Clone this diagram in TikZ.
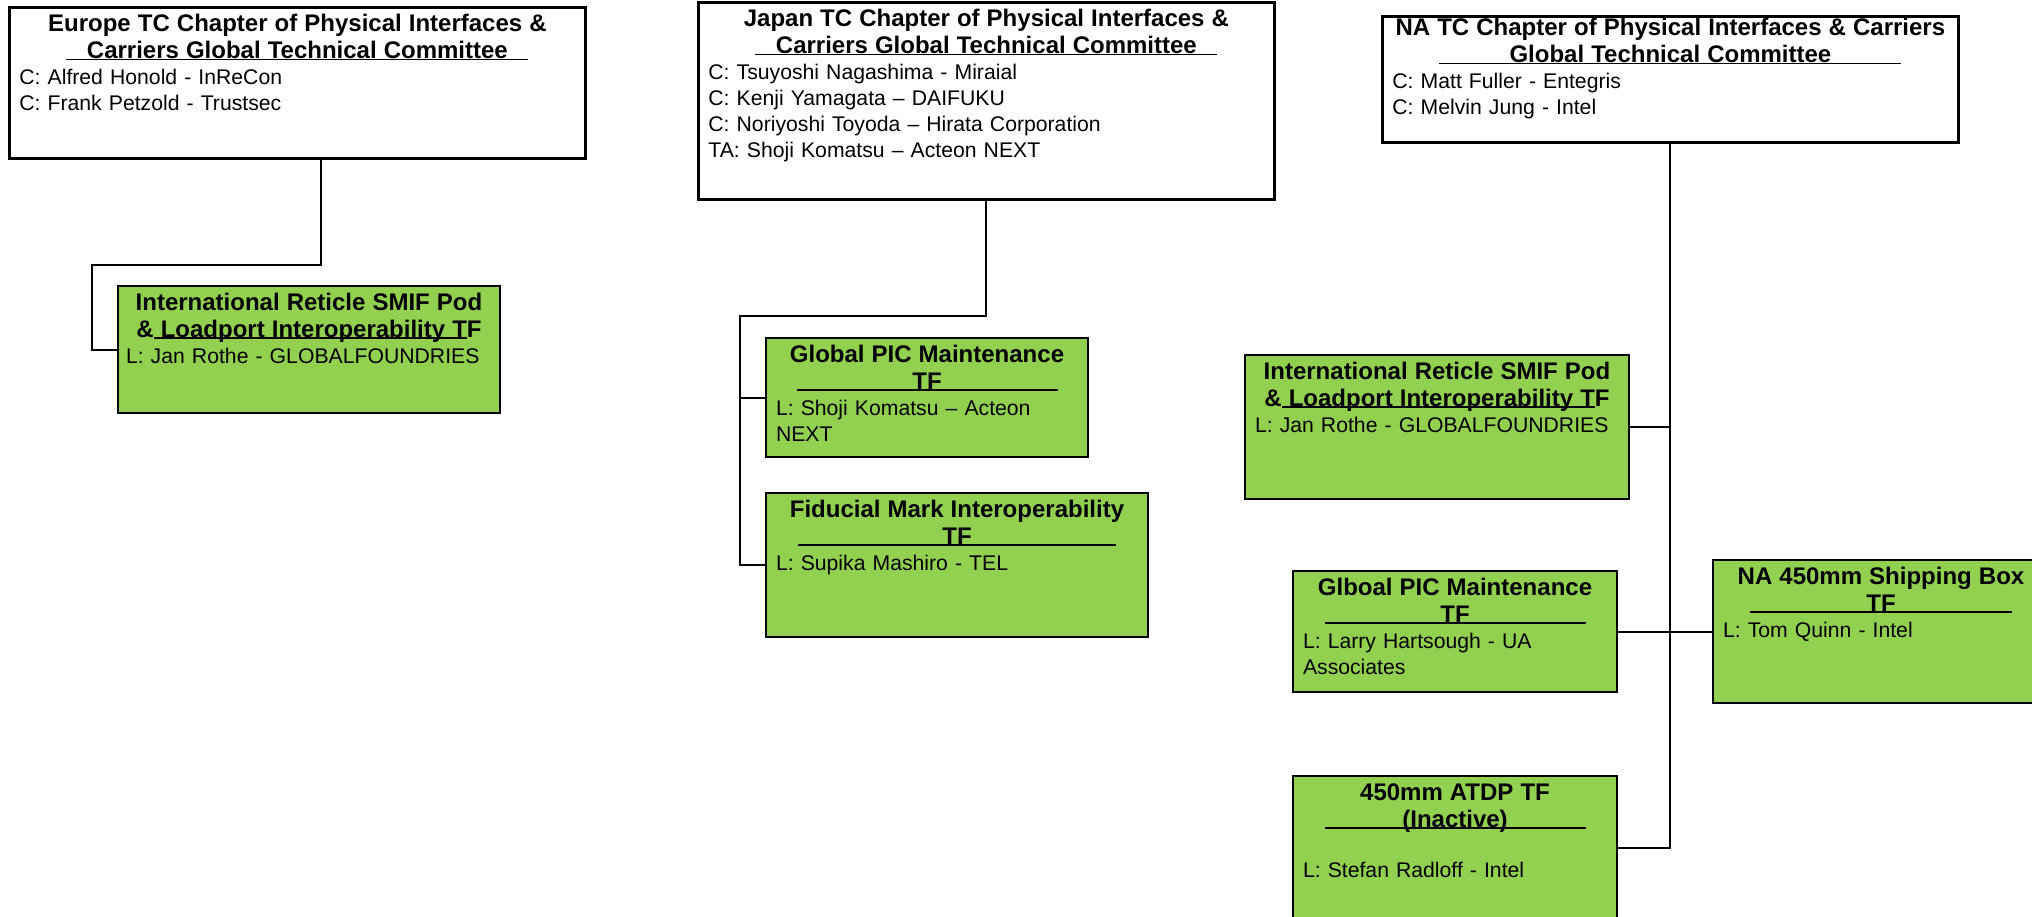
\documentclass[tikz,border=0pt]{standalone}
\usepackage{fontspec}
\setmainfont{Liberation Sans}
\usepackage{tikz}
\newsavebox\barbox
\newcommand\chapfont{\fontsize{12}{13.6}\selectfont\bfseries}
\newcommand\tfline[2]{\makebox[#1]{\rlap{\rule[-0.9pt]{#1}{0.9pt}}\hfill#2\hfill}}
\newcommand\basebar[1]{\sbox\barbox{#1}\rlap{\rule[-0.9pt]{\wd\barbox}{0.9pt}}\usebox\barbox}
\definecolor{tfgreen}{RGB}{146,208,80}

\begin{document}
\begin{tikzpicture}[x=0.5pt, y=-0.5pt,
    chapter/.style={draw=black, line width=1.4pt, fill=white, anchor=north west, align=left,
      inner xsep=5pt, inner ysep=3pt, text height=9pt, font=\fontsize{10.6}{13}\selectfont},
    tf/.style={chapter, line width=1pt, fill=tfgreen},
    link/.style={draw=black, line width=1pt}]
    \useasboundingbox (0,0) rectangle (2032,916);
    % chapters
    \node[chapter, text width=278pt, text depth=60.5pt] (eu) at (8,6) {%
      {\centering\chapfont Europe TC Chapter of Physical Interfaces \&\\
       \tfline{231pt}{Carriers Global Technical Committee}\par}
      C: Alfred Honold - InReCon\\
      C: Frank Petzold - Trustsec};
    \node[chapter, text width=278pt, text depth=83.5pt] (jp) at (697,1) {%
      {\centering\chapfont Japan TC Chapter of Physical Interfaces \&\\
       \tfline{231pt}{Carriers Global Technical Committee}\par}
      C: Tsuyoshi Nagashima - Miraial\\
      C: Kenji Yamagata – DAIFUKU\\
      C: Noriyoshi Toyoda – Hirata Corporation\\
      TA: Shoji Komatsu – Acteon NEXT};
    \node[chapter, text width=278pt, text height=6.5pt, text depth=50.5pt] (na) at (1381,15) {%
      {\centering\chapfont NA TC Chapter of Physical Interfaces \& Carriers\\
       \tfline{231pt}{Global Technical Committee}\par}
      C: Matt Fuller - Entegris\\
      C: Melvin Jung - Intel};
    % task forces
    \node[tf, inner xsep=4pt, text width=183pt, text depth=48.5pt] (eutf) at (117,285) {%
      {\centering\chapfont International Reticle SMIF Pod\\
       \&\basebar{ Loadport Interoperability T}F\par}
      L: Jan Rothe - GLOBALFOUNDRIES};
    \node[tf, text width=151pt, text depth=44.5pt] (jptf1) at (765,337) {%
      {\centering\chapfont Global PIC Maintenance\\ \tfline{130.5pt}{TF}\par}
      L: Shoji Komatsu – Acteon\\ NEXT};
    \node[tf, text width=181pt, text depth=57pt] (jptf2) at (765,492) {%
      {\centering\chapfont Fiducial Mark Interoperability\\ \tfline{159pt}{TF}\par}
      L: Supika Mashiro - TEL};
    \node[tf, text width=182pt, text depth=57pt] (natf1) at (1244,354) {%
      {\centering\chapfont International Reticle SMIF Pod\\
       \&\basebar{ Loadport Interoperability T}F\par}
      L: Jan Rothe - GLOBALFOUNDRIES};
    \node[tf, text width=152pt, text depth=45.5pt] (glboal) at (1292,570) {%
      {\centering\chapfont Glboal PIC Maintenance\\ \tfline{130.5pt}{TF}\par}
      L: Larry Hartsough - UA\\ Associates};
    \node[tf, text width=158pt, text depth=56.5pt] (na450) at (1712,559) {%
      {\centering\chapfont NA 450mm Shipping Box\\ \tfline{131pt}{TF}\par}
      L: Tom Quinn - Intel};
    \node[tf, text width=152pt, text depth=57pt] (atdp) at (1292,775) {%
      {\centering\chapfont 450mm ATDP TF\\ \tfline{130.5pt}{(Inactive)}\par}
      \vspace{12pt}L: Stefan Radloff - Intel};
    % links
    \draw[link] ([xshift=12pt]eu.south) -- ++(0,105) -| ([xshift=-12.5pt]eutf.west) -- (eutf.west);
    \draw[link] (jp.south) -- ++(0,115) -| ([xshift=-12.5pt]jptf2.west) -- (jptf2.west);
    \draw[link] ([xshift=-12.5pt]jptf1.west) -- (jptf1.west);
    \draw[link] (na.south) |- (atdp.east);
    \draw[link] (na.south |- natf1.east) -- (natf1.east);
    \draw[link] (glboal.east) -- (na450.west);
\end{tikzpicture}
\end{document}
